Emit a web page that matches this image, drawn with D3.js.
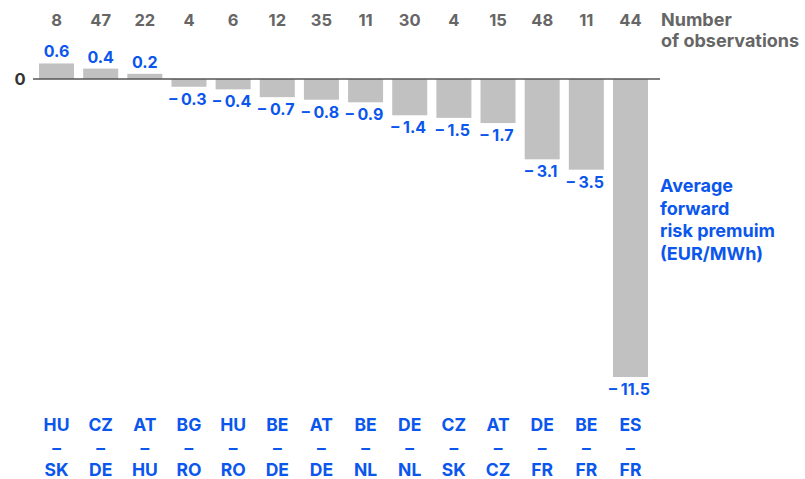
<!DOCTYPE html>
<html><head><meta charset="utf-8">
<script src="https://cdn.jsdelivr.net/npm/d3@7"></script>
<style>
body{margin:0;background:#fff;}
svg{display:block;font-family:Inter,"Noto Sans",sans-serif;font-weight:700;}
</style></head>
<body><svg id="c" width="805" height="479"></svg>
<script>
const fromCodes = ["HU","CZ","AT","BG","HU","BE","AT","BE","DE","CZ","AT","DE","BE","ES"];
const toCodes   = ["SK","DE","HU","RO","RO","DE","DE","NL","NL","SK","CZ","FR","FR","FR"];
const values    = [0.6,0.4,0.2,-0.3,-0.4,-0.7,-0.8,-0.9,-1.4,-1.5,-1.7,-3.1,-3.5,-11.5];
const observations = [8,47,22,4,6,12,35,11,30,4,15,48,11,44];
const obsTitle = ["Number","of observations"];
const valueTitle = ["Average","forward","risk premuim","(EUR/MWh)"];

const BLUE = "#0b56ec", GRAY = "#666666", BAR = "#c1c1c1";
const svg = d3.select("#c");
const idx = d3.range(values.length);

const x = d3.scaleBand().domain(idx).range([34.6, 652.4]).paddingInner(0.207).paddingOuter(0.1);
const y = d3.scaleLinear().domain([-11.5, 0]).range([377, 79]);

// bars
svg.append("g").selectAll("rect").data(idx).join("rect")
  .attr("x", i => x(i))
  .attr("width", x.bandwidth())
  .attr("y", i => y(Math.max(0, values[i])))
  .attr("height", i => Math.abs(y(values[i]) - y(0)))
  .attr("fill", BAR);

// zero line
svg.append("line").attr("x1", 33).attr("x2", 660).attr("y1", y(0)).attr("y2", y(0))
  .attr("stroke", "#555").attr("stroke-width", 1.5);
svg.append("text").attr("x", 20).attr("y", y(0)).attr("dy", "0.36em").attr("text-anchor", "middle")
  .attr("font-size", 16.5).attr("fill", "#333").text("0");

// value labels
const fmt = v => v < 0 ? "\u2013 " + Math.abs(v).toFixed(1) : v.toFixed(1);
svg.append("g").selectAll("text").data(idx).join("text")
  .attr("x", i => x(i) + x.bandwidth() / 2 - (values[i] < 0 ? 1 : 0))
  .attr("y", i => values[i] >= 0 ? y(values[i]) - 6 : y(values[i]) + 18)
  .attr("text-anchor", "middle").attr("font-size", 16).attr("fill", BLUE)
  .text(i => fmt(values[i]));

// observations
svg.append("g").selectAll("text").data(idx).join("text")
  .attr("x", i => x(i) + x.bandwidth() / 2).attr("y", 26)
  .attr("text-anchor", "middle").attr("font-size", 16.5).attr("fill", GRAY)
  .text(i => observations[i]);
svg.append("text").attr("x", 661).attr("y", 26).attr("font-size", 18).attr("fill", GRAY)
  .selectAll("tspan").data(obsTitle).join("tspan")
  .attr("x", 661).attr("dy", (d, i) => i ? 21 : 0).text(d => d);

// series title
svg.append("text").attr("x", 660).attr("y", 192).attr("font-size", 18).attr("fill", BLUE)
  .selectAll("tspan").data(valueTitle).join("tspan")
  .attr("x", 660).attr("dy", (d, i) => i ? 22.5 : 0).text(d => d);

// category labels
const cat = svg.append("g").selectAll("g").data(idx).join("g")
  .attr("transform", i => `translate(${x(i) + x.bandwidth() / 2},0)`)
  .attr("fill", BLUE).attr("font-size", 17.5).attr("text-anchor", "middle");
cat.append("text").attr("y", 431).text(i => fromCodes[i]);
cat.append("text").attr("y", 454).text("\u2013");
cat.append("text").attr("y", 475.5).text(i => toCodes[i]);
</script></body></html>
